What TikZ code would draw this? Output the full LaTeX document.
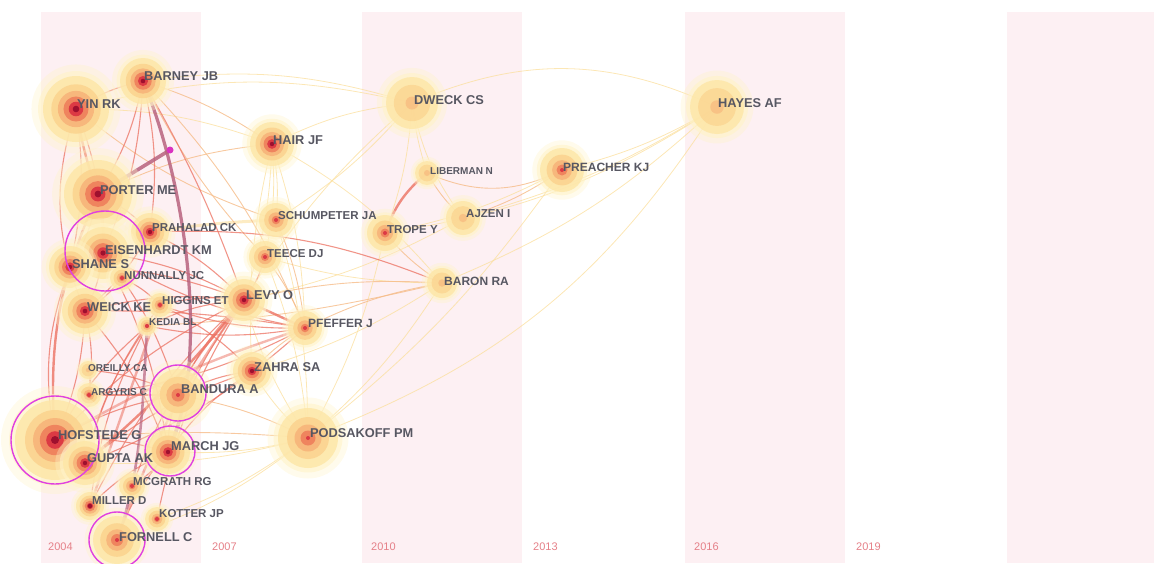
\documentclass[tikz,border=0pt]{standalone}
\usepackage{fontspec}
\setmainfont{Liberation Sans}
\definecolor{stripe}{HTML}{FDF0F3}
\definecolor{yearc}{HTML}{E58088}
\definecolor{labc}{HTML}{575762}
\definecolor{cY}{HTML}{FBDF9C}
\definecolor{cP}{HTML}{F6BC88}
\definecolor{cR}{HTML}{EC7262}
\definecolor{cM}{HTML}{B8627E}
\definecolor{ring}{HTML}{E040E0}
\definecolor{gA}{HTML}{FFF3C8}
\definecolor{gB}{HTML}{FDE6A6}
\definecolor{gC}{HTML}{FBD38E}
\definecolor{gD}{HTML}{F7B47A}
\definecolor{gE}{HTML}{EF845E}
\definecolor{gF}{HTML}{DC3A44}
\definecolor{gG}{HTML}{9E102E}
\newcommand\glow[2]{%
 \fill[gA,opacity=.35] (#1) circle[radius={1.35*#2pt}];
 \fill[gA,opacity=.6] (#1) circle[radius={1.15*#2pt}];
 \fill[gB,opacity=.8] (#1) circle[radius={#2pt}];}
\newcommand\hotn[2]{%
 \glow{#1}{#2}
 \fill[gC,opacity=.85] (#1) circle[radius={0.75*#2pt}];
 \fill[gD,opacity=.9] (#1) circle[radius={0.55*#2pt}];
 \fill[gE] (#1) circle[radius={0.38*#2pt}];
 \fill[gF] (#1) circle[radius={0.22*#2pt}];
 \fill[gG] (#1) circle[radius={max(2.2,0.1*#2)*1pt}];}
\newcommand\warmn[2]{%
 \glow{#1}{#2}
 \fill[gC,opacity=.85] (#1) circle[radius={0.7*#2pt}];
 \fill[gD,opacity=.9] (#1) circle[radius={0.45*#2pt}];
 \fill[gE] (#1) circle[radius={0.25*#2pt}];
 \fill[gF] (#1) circle[radius=2pt];}
\newcommand\cooln[2]{%
 \glow{#1}{#2}
 \fill[gC,opacity=.7] (#1) circle[radius={0.7*#2pt}];
 \fill[gD,opacity=.6] (#1) circle[radius={0.25*#2pt}];}
\begin{document}
\begin{tikzpicture}[x=1pt,y=-1pt,
  eY/.style={cY,line width=.8pt,opacity=.75,bend left=8},
  eP/.style={cP,line width=.9pt,opacity=.8,bend right=8},
  eR/.style={cR,line width=1.1pt,opacity=.75,bend left=10},
  eRt/.style={cR,line width=2.4pt,opacity=.8},
  eM/.style={cM,line width=3.2pt,opacity=.85},
  ringst/.style={ring,line width=1.4pt},
  lbl/.style={font=\bfseries\fontsize{12.8}{12.8}\selectfont,text=labc,anchor=west,inner sep=0pt},
  lblb/.style={font=\bfseries\fontsize{12}{12}\selectfont,text=labc,anchor=west,inner sep=0pt},
  lblm/.style={font=\bfseries\fontsize{11.5}{11.5}\selectfont,text=labc,anchor=west,inner sep=0pt},
  lbls/.style={font=\bfseries\fontsize{10}{10}\selectfont,text=labc,anchor=west,inner sep=0pt},
  yr/.style={font=\fontsize{11}{11}\selectfont,text=yearc,anchor=west,inner sep=0pt}]
\useasboundingbox (0,0) rectangle (1154,563);
\clip (0,0) rectangle (1154,563);
% stripes
\fill[stripe] (41,12) rectangle (201,563);
\fill[stripe] (362,12) rectangle (522,563);
\fill[stripe] (685,12) rectangle (845,563);
\fill[stripe] (1007,12) rectangle (1154,563);
\node[yr] (y2004) at (48,547) {2004};
\node[yr] (y2007) at (212,547) {2007};
\node[yr] (y2010) at (371,547) {2010};
\node[yr] (y2013) at (533,547) {2013};
\node[yr] (y2016) at (694,547) {2016};
\node[yr] (y2019) at (856,547) {2019};
% node centres
\coordinate (yin) at (76,109);
\coordinate (barney) at (143,81);
\coordinate (hair) at (272,144);
\coordinate (porter) at (98,194);
\coordinate (prahalad) at (150,232);
\coordinate (schump) at (276,220);
\coordinate (eisen) at (103,253);
\coordinate (shane) at (70,267);
\coordinate (nunnally) at (122,278);
\coordinate (teece) at (265,257);
\coordinate (weick) at (85,311);
\coordinate (higgins) at (160,305);
\coordinate (levy) at (244,300);
\coordinate (kedia) at (147,326);
\coordinate (pfeffer) at (305,328);
\coordinate (zahra) at (252,371);
\coordinate (oreilly) at (88,370);
\coordinate (argyris) at (89,395);
\coordinate (bandura) at (178,395);
\coordinate (hofstede) at (55,440);
\coordinate (march) at (168,452);
\coordinate (gupta) at (85,463);
\coordinate (podsakoff) at (308,438);
\coordinate (mcgrath) at (132,486);
\coordinate (miller) at (90,506);
\coordinate (kotter) at (157,519);
\coordinate (fornell) at (117,540);
\coordinate (dweck) at (412,103);
\coordinate (liberman) at (427,173);
\coordinate (preacher) at (562,170);
\coordinate (ajzen) at (463,218);
\coordinate (trope) at (385,233);
\coordinate (baron) at (442,283);
\coordinate (hayes) at (717,107);
\coordinate (junction) at (170,150);
% light edges
\draw[eY] (dweck) to[bend left=24] (hayes);
\draw[eY] (barney) to[bend left=12] (dweck);
\draw[eY] (yin) to[bend left=14] (dweck);
\draw[eY] (hair) to[bend left=10] (dweck);
\draw[eY] (dweck) to[bend right=5] (liberman);
\draw[eY] (dweck) to[bend right=12] (ajzen);
\draw[eY] (dweck) to (schump);
\draw[eY] (dweck) to[bend right=8] (levy);
\draw[eY] (dweck) to (trope);
\draw[eY] (hayes) to[bend left=8] (preacher);
\draw[eY] (hayes) to[bend left=8] (ajzen);
\draw[eY] (hayes) to[bend left=12] (trope);
\draw[eY] (hayes) to[bend left=10] (baron);
\draw[eY] (hayes) to[bend left=18] (podsakoff);
\draw[eY] (preacher) to[bend left=8] (podsakoff);
\draw[eY] (preacher) to (trope);
\draw[eY] (baron) to[bend right=10] (hair);
\draw[eY] (baron) to (podsakoff);
\draw[eY] (baron) to (zahra);
\draw[eY] (baron) to (teece);
\draw[eY] (trope) to (podsakoff);
\draw[eY] (schump) to (podsakoff);
\draw[eY] (hair) to (pfeffer);
\draw[eY] (hair) to (teece);
\draw[eY] (hair) to (schump);
\draw[eY] (hair) to (levy);
\draw[eY] (teece) to (podsakoff);
\draw[eY] (ajzen) to (levy);
\draw[eY] (podsakoff) to (zahra);
\draw[eY] (podsakoff) to (levy);
\draw[eY] (podsakoff) to[bend left=10] (fornell);
\draw[eY] (podsakoff) to (gupta);
\draw[eY] (podsakoff) to (march);
\draw[eY] (podsakoff) to (kotter);
\draw[eY] (zahra) to (hair);
\draw[eY] (yin) to[bend left=10] (hair);
\draw[eY,line width=3pt,opacity=.6] (prahalad) to[bend left=3] (schump);
% peach edges
\draw[eP] (liberman) to[bend right=25] (preacher);
\draw[eP] (ajzen) to (preacher);
\draw[eP] (liberman) to (ajzen);
\draw[eP] (trope) to (baron);
\draw[eP] (hair) to[bend right=10] (porter);
\draw[eP] (hair) to (barney);
\draw[eP] (barney) to (teece);
\draw[eP] (baron) to (pfeffer);
\draw[eP] (baron) to[bend left=5] (kedia);
\draw[eP] (baron) to (levy);
\draw[eP] (podsakoff) to (bandura);
\draw[eP] (podsakoff) to[bend right=5] (hofstede);
\draw[eP] (pfeffer) to (schump);
\draw[eP] (pfeffer) to (teece);
\draw[eP] (pfeffer) to (zahra);
\draw[eP] (barney) to[bend left=10] (pfeffer);
\draw[eP] (schump) to[bend left=10] (yin);
% red edges
\draw[eR] (prahalad) to[bend left=12] (baron);
\draw[eRt] (liberman) to[bend right=15] (trope);
\draw[eRt] (levy) to (pfeffer);
\draw[eR] (pfeffer) to (kedia);
\draw[eR] (pfeffer) to[bend right=5] (weick);
\draw[eR] (pfeffer) to (higgins);
\draw[eR] (pfeffer) to (argyris);
\draw[eR] (pfeffer) to (eisen);
\draw[eR] (pfeffer) to (gupta);
\draw[eRt] (yin) to[bend right=5] (porter);
\draw[eR] (yin) to (eisen);
\draw[eR] (yin) to (shane);
\draw[eR] (yin) to (barney);
\draw[eR] (yin) to[bend right=20] (weick);
\draw[eRt] (porter) to[bend right=14] (hofstede);
\draw[eR] (porter) to (eisen);
\draw[eR] (porter) to (prahalad);
\draw[eR] (porter) to (shane);
\draw[eR] (barney) to (prahalad);
\draw[eR] (barney) to (eisen);
\draw[eR] (barney) to (porter);
\draw[eR] (barney) to[bend left=5] (levy);
\draw[eR] (eisen) to (weick);
\draw[eR] (eisen) to (shane);
\draw[eR] (eisen) to (march);
\draw[eR] (eisen) to (bandura);
\draw[eR] (eisen) to (levy);
\draw[eR] (weick) to (hofstede);
\draw[eR] (weick) to (march);
\draw[eR] (weick) to (argyris);
\draw[eR] (weick) to (levy);
\draw[eR] (hofstede) to (gupta);
\draw[eR] (hofstede) to (levy);
\draw[eR] (hofstede) to (march);
\draw[eR] (hofstede) to (bandura);
\draw[eR] (hofstede) to (kedia);
\draw[eRt] (gupta) to[bend right=5] (levy);
\draw[eR] (gupta) to (kedia);
\draw[eR] (gupta) to (higgins);
\draw[eR] (gupta) to (zahra);
\draw[eR] (march) to (levy);
\draw[eR] (march) to (zahra);
\draw[eR] (march) to (mcgrath);
\draw[eR] (march) to (bandura);
\draw[eR] (miller) to (march);
\draw[eR] (miller) to (levy);
\draw[eR] (miller) to (kedia);
\draw[eR] (fornell) to (march);
\draw[eR] (kotter) to (levy);
\draw[eR] (bandura) to (zahra);
\draw[eR] (bandura) to (levy);
\draw[eR] (argyris) to[bend left=0] (bandura);
\draw[eR] (oreilly) to (bandura);
\draw[eR] (oreilly) to (argyris);
\draw[eR] (nunnally) to (weick);
\draw[eR] (nunnally) to (higgins);
\draw[eR] (shane) to (levy);
\draw[eR] (prahalad) to (levy);
\draw[eR] (teece) to (levy);
\draw[eR] (higgins) to (levy);
\draw[eR] (kedia) to (levy);
\draw[eR] (higgins) to (zahra);
\draw[eR] (shane) to[bend right=15] (hofstede);
\draw[eR] (mcgrath) to (levy);
\draw[eR] (prahalad) to (weick);
\draw[eRt,opacity=.55] (miller) to (higgins);
\draw[eRt,opacity=.55] (fornell) to[bend left=8] (levy);
\draw[eRt,opacity=.5] (hofstede) to[bend left=6] (pfeffer);
% mauve edges
\draw[eM] (barney) .. controls (185,180) and (212,360) .. (march);
\draw[eM,line width=3.6pt] (porter) -- (junction);
\draw[eM,line width=2.6pt,opacity=.7] (kedia) .. controls (143,400) and (142,470) .. (fornell);
\fill[ring!80!purple] (junction) circle[radius=3.5pt];
% nodes
\hotn{yin}{33}
\hotn{barney}{23}
\hotn{hair}{22}
\hotn{porter}{34}
\hotn{prahalad}{19}
\warmn{schump}{17}
\hotn{eisen}{26}
\hotn{shane}{21}
\warmn{nunnally}{12}
\warmn{teece}{16}
\hotn{weick}{23}
\warmn{higgins}{12}
\hotn{levy}{21}
\warmn{kedia}{9}
\warmn{pfeffer}{17}
\hotn{zahra}{19}
\cooln{oreilly}{9}
\warmn{argyris}{12}
\warmn{bandura}{26}
\hotn{hofstede}{40}
\hotn{march}{22}
\hotn{gupta}{22}
\warmn{podsakoff}{30}
\warmn{mcgrath}{13}
\hotn{miller}{14}
\warmn{kotter}{12}
\warmn{fornell}{24}
\cooln{dweck}{26}
\cooln{liberman}{12}
\warmn{preacher}{22}
\cooln{ajzen}{17}
\warmn{trope}{18}
\cooln{baron}{15}
\cooln{hayes}{27}
% purple rings
\draw[ringst] (105,251) circle[radius=40pt];
\draw[ringst] (178,393) circle[radius=28pt];
\draw[ringst] (55,440) circle[radius=44pt];
\draw[ringst] (170,451) circle[radius=25pt];
\draw[ringst] (117,540) circle[radius=28pt];
% labels
\node[lbl] (l-barney) at (144,76) {BARNEY JB};
\node[lbl] (l-yin) at (77,104) {YIN RK};
\node[lbl] (l-hair) at (273,140) {HAIR JF};
\node[lbl] (l-porter) at (100,190) {PORTER ME};
\node[lblm] (l-prahalad) at (152,228) {PRAHALAD CK};
\node[lblm] (l-schump) at (278,216) {SCHUMPETER JA};
\node[lbl] (l-eisen) at (105,250) {EISENHARDT KM};
\node[lbl] (l-shane) at (72,264) {SHANE S};
\node[lblm] (l-nunnally) at (124,276) {NUNNALLY JC};
\node[lblm] (l-teece) at (267,254) {TEECE DJ};
\node[lbl] (l-weick) at (87,307) {WEICK KE};
\node[lblm] (l-higgins) at (162,301) {HIGGINS ET};
\node[lbl] (l-levy) at (246,295) {LEVY O};
\node[lbls] (l-kedia) at (149,322) {KEDIA BL};
\node[lblb] (l-pfeffer) at (308,323) {PFEFFER J};
\node[lbl] (l-zahra) at (254,367) {ZAHRA SA};
\node[lbls] (l-oreilly) at (88,368) {OREILLY CA};
\node[lbls] (l-argyris) at (91,392) {ARGYRIS C};
\node[lbl] (l-bandura) at (181,389) {BANDURA A};
\node[lbl] (l-hofstede) at (58,435) {HOFSTEDE G};
\node[lbl] (l-march) at (171,446) {MARCH JG};
\node[lbl] (l-gupta) at (87,458) {GUPTA AK};
\node[lbl] (l-podsakoff) at (310,433) {PODSAKOFF PM};
\node[lblm] (l-mcgrath) at (133,482) {MCGRATH RG};
\node[lblm] (l-miller) at (92,501) {MILLER D};
\node[lblm] (l-kotter) at (159,514) {KOTTER JP};
\node[lbl] (l-fornell) at (119,537) {FORNELL C};
\node[lbl] (l-dweck) at (414,100) {DWECK CS};
\node[lbls] (l-liberman) at (430,171) {LIBERMAN N};
\node[lblb] (l-preacher) at (563,167) {PREACHER KJ};
\node[lblm] (l-ajzen) at (466,214) {AJZEN I};
\node[lblm] (l-trope) at (387,230) {TROPE Y};
\node[lblb] (l-baron) at (444,281) {BARON RA};
\node[lbl] (l-hayes) at (718,103) {HAYES AF};
\end{tikzpicture}
\end{document}
